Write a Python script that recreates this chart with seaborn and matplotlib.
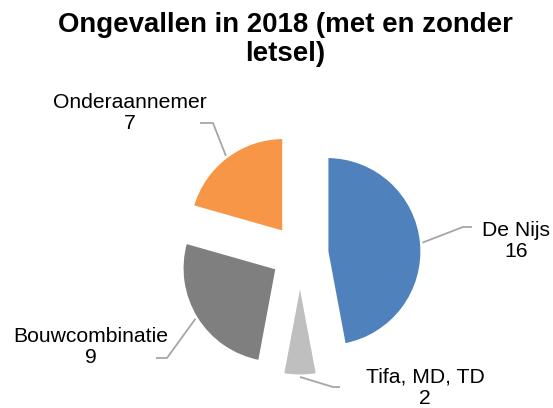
import numpy as np
import matplotlib
matplotlib.use("Agg")
import matplotlib.pyplot as plt
import seaborn as sns

# ---- data ----
categories = ["De Nijs", "Tifa, MD, TD", "Bouwcombinatie", "Onderaannemer"]
values = [16, 2, 9, 7]
colors = ["#4F81BD", "#BFBFBF", "#7F7F7F", "#F79646"]
title = "Ongevallen in 2018 (met en zonder\nletsel)"

sns.set_theme(style="white")
plt.rcParams["font.family"] = ["Liberation Sans", "DejaVu Sans"]

W, H = 553, 408
fig = plt.figure(figsize=(W / 100, H / 100), dpi=100)
ax = fig.add_axes([0, 0, 1, 1])

R = 95
cx, cy = 300, H - 254
explode = [27] * len(values)  # matplotlib explode is in data units
wedges, _ = ax.pie(values, colors=colors, startangle=90, counterclock=False,
                   explode=explode, radius=R, center=(cx, cy),
                   wedgeprops=dict(linewidth=2.2, edgecolor="white"))
ax.set_xlim(0, W)
ax.set_ylim(0, H)
ax.set_aspect("equal")
ax.axis("off")

def sy(y):
    return H - y

# label layout (screen coords): text center, elbow points
layout = {
    "De Nijs": dict(text=(516, 241), elbow=[(463, 227), (472, 227)]),
    "Tifa, MD, TD": dict(text=(425, 388), elbow=[(333, 387), (340, 387)]),
    "Bouwcombinatie": dict(text=(91, 347), elbow=[(167, 358), (156, 358)]),
    "Onderaannemer": dict(text=(130, 113), elbow=[(213, 123), (200, 123)]),
}

line_color = "#A6A6A6"
for w, cat, val in zip(wedges, categories, values):
    mid = np.deg2rad((w.theta1 + w.theta2) / 2)
    ax_ = w.center[0] + w.r * 1.01 * np.cos(mid)
    ay_ = w.center[1] + w.r * 1.01 * np.sin(mid)
    lay = layout[cat]
    xs = [ax_] + [p[0] for p in lay["elbow"]]
    ys = [ay_] + [sy(p[1]) for p in lay["elbow"]]
    ax.plot(xs, ys, color=line_color, lw=1.3, solid_capstyle="butt")
    tx, ty = lay["text"]
    ax.text(tx, sy(ty), f"{cat}\n{val}", ha="center", va="center",
            multialignment="center", fontsize=15.2, color="#000000",
            linespacing=1.15)

fig.text(285 / W, 1 - 12 / H, title, ha="center", va="top",
         fontsize=19.9, fontweight="bold", color="#000000", linespacing=1.15)

fig.savefig("out.png", dpi=100)
